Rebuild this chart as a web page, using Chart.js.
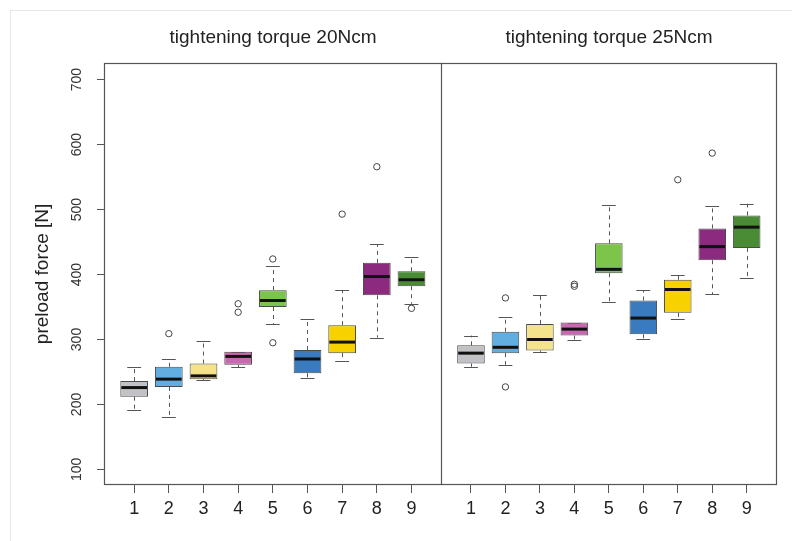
<!DOCTYPE html>
<html>
<head>
<meta charset="utf-8">
<script src="https://cdn.jsdelivr.net/npm/chart.js@4.4.1/dist/chart.umd.min.js"></script>
<style>
  html, body { margin: 0; padding: 0; background: #ffffff; }
  #wrap { position: relative; width: 792px; height: 541px; overflow: hidden; }
  #frame { position: absolute; left: 10px; top: 10px; right: 0; bottom: 0; border-top: 1px solid #e8e8e8; border-left: 1px solid #e8e8e8; }
  #c1 { position: absolute; left: 0; top: 0; }
  #c2 { position: absolute; left: 441px; top: 0; }
</style>
</head>
<body>
<div id="wrap">
  <div id="frame"></div>
  <canvas id="c1" width="442" height="541"></canvas>
  <canvas id="c2" width="351" height="541"></canvas>
</div>
<script>
// ---- data ----
const categories = ['1', '2', '3', '4', '5', '6', '7', '8', '9'];
const yTicks = [100, 200, 300, 400, 500, 600, 700];
const panelTitles = ['tightening torque 20Ncm', 'tightening torque 25Ncm'];
const yTitle = 'preload force [N]';
const boxColors = ['#c2c2c6', '#62aee0', '#f5e38c', '#c868b0', '#7cc44a', '#3a7bbf', '#f7d200', '#8b2a7e', '#4a8c35'];

// tightening torque 20 Ncm
const lo20  = [192, 180, 237, 257, 324, 241, 267, 303, 355];
const q1_20 = [212, 227, 239, 261, 350, 248, 279, 368, 382];
const med20 = [226, 239, 244, 274, 360, 270, 296, 397, 392];
const q3_20 = [236, 258, 263, 281, 376, 284, 322, 418, 405];
const hi20  = [258, 270, 298, 281, 413, 331, 376, 447, 427];
const out20 = [[2, 309], [4, 342], [4, 355], [5, 424], [5, 295], [7, 493], [8, 566], [9, 348]];

// tightening torque 25 Ncm
const lo25  = [258, 261, 281, 300, 358, 301, 331, 370, 395];
const q1_25 = [263, 279, 283, 306, 402, 308, 341, 422, 441];
const med25 = [279, 288, 300, 316, 408, 333, 377, 443, 473];
const q3_25 = [291, 312, 324, 326, 448, 360, 392, 471, 491];
const hi25  = [306, 334, 368, 326, 507, 376, 400, 505, 509];
const out25 = [[2, 364], [2, 227], [4, 385], [4, 382], [7, 546], [8, 587]];

// ---- drawing ----
const FONT = '"Liberation Sans", Arial, sans-serif';
const BOX_HALF = 0.4;
const STAPLE_HALF = 0.2;

const boxParts = {
  id: 'boxParts',
  beforeDatasetsDraw(chart, args, o) {
    const { ctx, scales: { x, y } } = chart;
    ctx.save();
    ctx.strokeStyle = '#555';
    ctx.lineWidth = 1;
    categories.forEach((c, i) => {
      const px = Math.round(x.getPixelForValue(i + 1)) + 0.5;
      // dashed whiskers
      ctx.setLineDash([4, 4]);
      ctx.beginPath();
      ctx.moveTo(px, y.getPixelForValue(o.q3[i]));
      ctx.lineTo(px, y.getPixelForValue(o.hi[i]));
      ctx.moveTo(px, y.getPixelForValue(o.q1[i]));
      ctx.lineTo(px, y.getPixelForValue(o.lo[i]));
      ctx.stroke();
      // staples
      ctx.setLineDash([]);
      ctx.beginPath();
      const sl = x.getPixelForValue(i + 1 - STAPLE_HALF), sr = x.getPixelForValue(i + 1 + STAPLE_HALF);
      const yh = Math.round(y.getPixelForValue(o.hi[i])) + 0.5;
      const yl = Math.round(y.getPixelForValue(o.lo[i])) + 0.5;
      ctx.moveTo(sl, yh); ctx.lineTo(sr, yh);
      ctx.moveTo(sl, yl); ctx.lineTo(sr, yl);
      ctx.stroke();
    });
    ctx.restore();
  },
  afterDatasetsDraw(chart, args, o) {
    const { ctx, scales: { x, y }, chartArea: a } = chart;
    ctx.save();
    ctx.strokeStyle = '#111';
    ctx.lineWidth = 3;
    categories.forEach((c, i) => {
      const py = y.getPixelForValue(o.med[i]);
      ctx.beginPath();
      ctx.moveTo(x.getPixelForValue(i + 1 - BOX_HALF) + 1, py);
      ctx.lineTo(x.getPixelForValue(i + 1 + BOX_HALF) - 1, py);
      ctx.stroke();
    });
    // panel frame
    ctx.strokeStyle = '#555';
    ctx.lineWidth = 1.2;
    const l = Math.round(a.left), r = Math.round(a.right), t = Math.round(a.top), b = Math.round(a.bottom);
    ctx.strokeRect(l + 0.5, t + 0.5, r - l - 1, b - t - 1);
    ctx.restore();
  }
};

function makeChart(id, title, lo, q1, med, q3, hi, out, first) {
  new Chart(document.getElementById(id), {
    type: 'bar',
    data: {
      datasets: [
        {
          type: 'bar',
          data: categories.map((c, i) => ({ x: i + 1, y: [q1[i], q3[i]] })),
          backgroundColor: boxColors,
          borderColor: '#4a4a4a',
          borderWidth: 1,
          borderSkipped: false,
          barPercentage: 0.8,
          categoryPercentage: 1.0,
          order: 2
        },
        {
          type: 'scatter',
          data: out.map(p => ({ x: p[0], y: p[1] })),
          pointStyle: 'circle',
          pointRadius: 3.2,
          backgroundColor: 'rgba(0,0,0,0)',
          borderColor: '#444',
          borderWidth: 1,
          order: 1
        }
      ]
    },
    options: {
      responsive: false,
      animation: false,
      devicePixelRatio: 1,
      layout: { autoPadding: false, padding: { left: 0, right: first ? 0 : 15, top: 0, bottom: 0 } },
      plugins: {
        legend: { display: false },
        tooltip: { enabled: false },
        title: {
          display: true,
          text: title,
          fullSize: false,
          color: '#222',
          font: { family: FONT, size: 19, weight: 'normal', lineHeight: 1.2 },
          padding: { top: 26, bottom: 14 }
        },
        boxParts: { lo, q1, med, q3, hi, first }
      },
      scales: {
        x: {
          type: 'linear',
          min: 0.13,
          max: 9.88,
          offset: false,
          afterBuildTicks: s => { s.ticks = categories.map((c, i) => ({ value: i + 1 })); },
          afterFit: s => { s.height = 56; s.paddingLeft = 0; s.paddingRight = 0; },
          grid: { display: true, drawOnChartArea: false, drawTicks: true, tickLength: 8, color: '#555', offset: false },
          border: { display: false },
          ticks: {
            autoSkip: false, maxRotation: 0, minRotation: 0, padding: 5,
            color: '#222', font: { family: FONT, size: 18 },
            callback: v => categories[v - 1]
          }
        },
        y: {
          type: 'linear',
          display: first,
          min: 76,
          max: 726,
          afterBuildTicks: s => { s.ticks = yTicks.map(v => ({ value: v })); },
          afterFit: s => { s.width = first ? 104 : 0; s.paddingTop = 0; s.paddingBottom = 0; },
          grid: { display: true, drawOnChartArea: false, drawTicks: true, tickLength: 7, color: '#555' },
          border: { display: false },
          title: {
            display: first,
            text: yTitle,
            color: '#222',
            font: { family: FONT, size: 19, lineHeight: 1.2 },
            padding: { top: 31, bottom: 0 }
          },
          ticks: {
            minRotation: 90, maxRotation: 90, crossAlign: 'center', padding: 8,
            color: '#333', font: { family: FONT, size: 14 }
          }
        }
      }
    },
    plugins: [boxParts]
  });
}

makeChart('c1', panelTitles[0], lo20, q1_20, med20, q3_20, hi20, out20, true);
makeChart('c2', panelTitles[1], lo25, q1_25, med25, q3_25, hi25, out25, false);
</script>
</body>
</html>
